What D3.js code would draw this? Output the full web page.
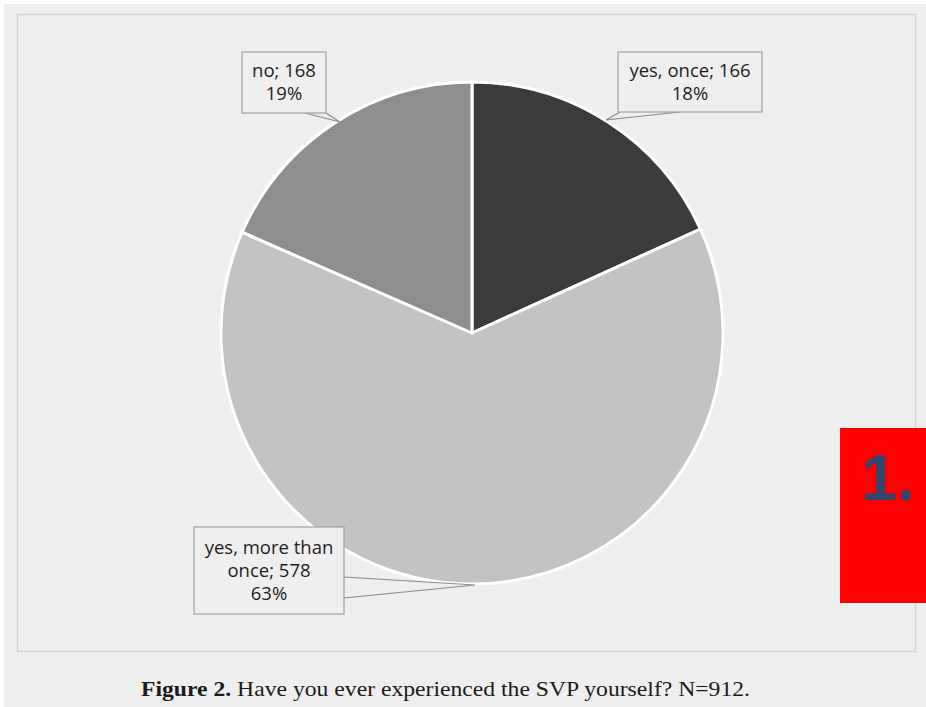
<!DOCTYPE html>
<html>
<head>
<meta charset="utf-8">
<script src="https://cdn.jsdelivr.net/npm/d3@7"></script>
<style>
body { margin: 0; background: #fff; }
</style>
</head>
<body>
<script>
var w = 926;
var h = 707;

var categories = ["yes, once", "yes, more than once", "no"];
var values = [166, 578, 168];
var percents = ["18%", "63%", "19%"];
var colors = ["#3b3b3b", "#c3c3c3", "#8e8e8e"];

// label lines as drawn in the callouts
var labelLines = [
    ["yes, once; 166", "18%"],
    ["yes, more than", "once; 578", "63%"],
    ["no; 168", "19%"]
];
// callout boxes: x, y, width, height, and the two base points of the pointer
var boxes = [
    {x: 618, y: 52, bw: 144, bh: 60, p1: [620, 112], p2: [680, 112], tip: [606, 120]},
    {x: 194, y: 527, bw: 150, bh: 87, p1: [344, 577], p2: [344, 598], tip: [475, 585]},
    {x: 242, y: 52, bw: 84, bh: 61, p1: [305, 113], p2: [326, 113], tip: [340, 122]}
];

var cx = 472, cy = 333, r = 251;

var svg = d3.select("body")
    .append("svg")
    .attr("width", w)
    .attr("height", h);

svg.append("rect")
    .attr("x", 4).attr("y", 4)
    .attr("width", w - 4).attr("height", h - 4)
    .attr("fill", "#efefef");

svg.append("rect")
    .attr("x", 17.5).attr("y", 14.5)
    .attr("width", 898).attr("height", 637)
    .attr("fill", "#efefef")
    .attr("stroke", "#d4d4d4")
    .attr("stroke-width", 1.5);

var pie = d3.pie().sort(null);
var arc = d3.arc().innerRadius(0).outerRadius(r);

var g = svg.append("g")
    .attr("transform", "translate(" + cx + "," + cy + ")");

g.selectAll("path")
    .data(pie(values))
    .enter()
    .append("path")
    .attr("d", arc)
    .attr("fill", function (d, i) {
        return colors[i];
    })
    .attr("stroke", "#ffffff")
    .attr("stroke-width", 3)
    .attr("stroke-linejoin", "round");

// callouts
var callouts = svg.selectAll("g.callout")
    .data(boxes)
    .enter()
    .append("g")
    .attr("class", "callout");

callouts.append("polyline")
    .attr("points", function (d) {
        return [d.p1, d.tip, d.p2].map(function (p) {
            return p.join(",");
        }).join(" ");
    })
    .attr("fill", "none")
    .attr("stroke", "#8a8a8a")
    .attr("stroke-width", 1.2);

callouts.append("rect")
    .attr("x", function (d) { return d.x; })
    .attr("y", function (d) { return d.y; })
    .attr("width", function (d) { return d.bw; })
    .attr("height", function (d) { return d.bh; })
    .attr("fill", "#efefef")
    .attr("stroke", "#a0a0a0")
    .attr("stroke-width", 1.2);

callouts.each(function (d, i) {
    var t = d3.select(this).append("text")
        .attr("text-anchor", "middle")
        .attr("font-family", "'Open Sans', sans-serif")
        .attr("font-size", 18.5)
        .attr("fill", "#1e1e1e");
    var lines = labelLines[i];
    var top = d.y + d.bh / 2 - (lines.length - 1) * 11.5 + 6;
    lines.forEach(function (s, k) {
        t.append("tspan")
            .attr("x", d.x + d.bw / 2)
            .attr("y", top + k * 23)
            .text(s);
    });
});

// caption
var cap = svg.append("text")
    .attr("x", 141)
    .attr("y", 696)
    .attr("font-family", "'Liberation Serif', serif")
    .attr("font-size", 21)
    .attr("fill", "#1a1a1a")
    .attr("textLength", 609)
    .attr("lengthAdjust", "spacingAndGlyphs");
cap.append("tspan").attr("font-weight", "bold").text("Figure 2.");
cap.append("tspan").text(" Have you ever experienced the SVP yourself? N=912.");

// red marker
svg.append("rect")
    .attr("x", 840).attr("y", 428)
    .attr("width", 86).attr("height", 175)
    .attr("fill", "#ff0000");
svg.append("text")
    .attr("x", 888).attr("y", 500)
    .attr("text-anchor", "middle")
    .attr("font-family", "'Liberation Sans', Arial, sans-serif")
    .attr("font-weight", "bold")
    .attr("font-size", 64)
    .attr("fill", "#34466e")
    .text("1.");
</script>
</body>
</html>
